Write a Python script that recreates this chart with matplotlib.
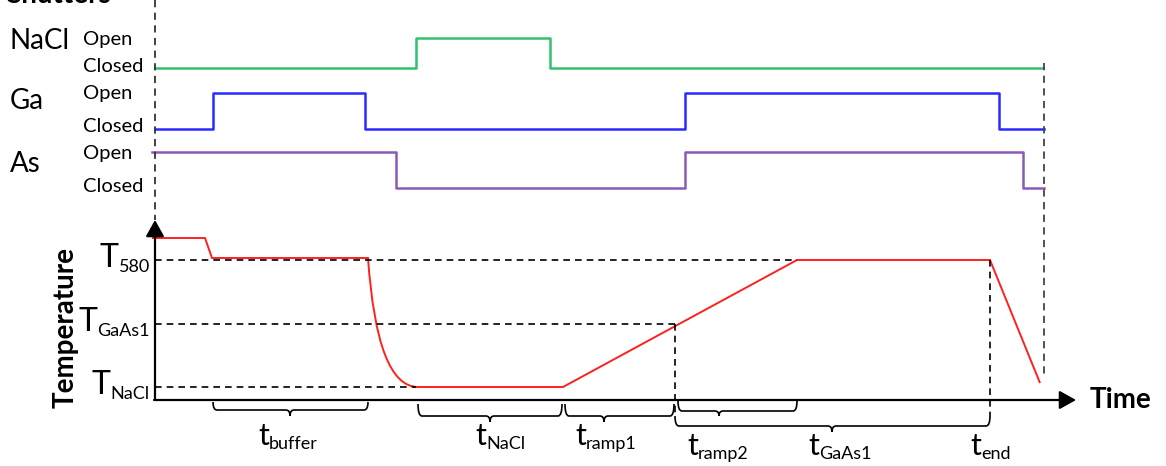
import matplotlib.pyplot as plt
from matplotlib.path import Path
from matplotlib.patches import PathPatch

plt.rcParams['font.family'] = ['Lato', 'DejaVu Sans']

# schematic: x = time position, y = height on the sheet (down is larger)
# shutter sequences (state 1 = open)
shutter_names = ['NaCl', 'Ga', 'As']
shutter_times = [
    [155, 416, 550, 1043],
    [155, 213, 365, 685, 999, 1044],
    [152, 396, 685, 1023, 1044],
]
shutter_states = [
    [0, 1, 0, 0],
    [0, 1, 0, 1, 0, 0],
    [1, 0, 1, 0, 0],
]
shutter_colors = ['#33c16f', '#2b2bff', '#8a5ab8']
open_y = [38, 93, 152]
closed_y = [68, 129, 188]
name_y = [41, 101, 164]

# substrate temperature profile; the cool-down after the buffer is a curve
# (start, control, end) between the 4th and 5th point
temp_t = [152, 205, 212, 368, 377, 418, 563, 797, 990, 1040]
temp_y = [238, 238, 258, 258, 387, 387, 387, 260, 260, 383]
temp_codes = ['M', 'L', 'L', 'L', 'C', 'C', 'L', 'L', 'L', 'L']

# temperature levels
level_subs = ['580', 'GaAs1', 'NaCl']
level_y = [260, 324, 387]
level_end = [797, 675, 416]

# time intervals (braces)
brace_subs = ['buffer', 'NaCl', 'ramp1', 'ramp2', 'GaAs1']
brace_x0 = [213, 418, 565, 678, 675]
brace_x1 = [368, 562, 674, 797, 990]
brace_xm = [290, 490, 604, 719, 832]
brace_top = [402, 404, 404, 401, 416]
brace_mid = [410, 416, 416, 411, 426]
brace_tip = [416, 422, 422, 416, 432]
tlabel_x = [258, 475, 575, 687, 808, 970]
tlabel_y = [445, 445, 445, 455, 455, 455]
tlabel_subs = brace_subs + ['end']

fig = plt.figure(figsize=(11.66, 4.66), dpi=100)
ax = fig.add_axes([0, 0, 1, 1])
ax.set_xlim(0, 1166)
ax.set_ylim(466, 0)
ax.axis('off')

dash = (0, (4, 3))

# shutter traces
for i in range(3):
    ys = [closed_y[i] - s * (closed_y[i] - open_y[i]) for s in shutter_states[i]]
    ax.plot(shutter_times[i], ys, drawstyle='steps-post', color=shutter_colors[i], lw=1.8)
    ax.text(10, name_y[i], shutter_names[i], fontsize=20, va='center', ha='left')
    ax.text(83, open_y[i] + 1, 'Open', fontsize=14.5, va='center', ha='left')
    ax.text(83, closed_y[i] - 2, 'Closed', fontsize=14.5, va='center', ha='left')

# title is cut by the top edge in the original sheet
ax.text(6, 3, 'Shutters', fontsize=20, fontweight='bold', va='baseline', ha='left')

# guide lines
ax.plot([155, 155], [0, 220], color='#333333', lw=1.3, ls=dash)
ax.plot([1044, 1044], [63, 375], color='#444444', lw=1.3, ls=dash)
for y, xe in zip(level_y, level_end):
    ax.plot([155, xe], [y, y], color='black', lw=1.2, ls=dash)
ax.plot([675, 675], [324, 417], color='black', lw=1.2, ls=dash)
ax.plot([990, 990], [260, 416], color='black', lw=1.2, ls=dash)

# axes with arrows
arrow = dict(arrowstyle='-|>,head_length=0.5,head_width=0.28', color='black', lw=1.6,
             mutation_scale=20, shrinkA=0, shrinkB=0)
ax.annotate('', xy=(155, 220), xytext=(155, 400), arrowprops=arrow)
ax.annotate('', xy=(1076, 400), xytext=(154, 400), arrowprops=arrow)
ax.text(1090, 400, 'Time', fontsize=20, fontweight='bold', va='center', ha='left')
ax.text(66, 328, 'Temperature', fontsize=20, fontweight='bold', rotation=90,
        va='center', ha='center')

# temperature profile
code_map = {'M': Path.MOVETO, 'L': Path.LINETO, 'C': Path.CURVE3}
temp_path = Path(list(zip(temp_t, temp_y)), [code_map[c] for c in temp_codes])
ax.add_patch(PathPatch(temp_path, fill=False, color='#ff2020', lw=1.4))

# level labels (right aligned)
for sub, y in zip(level_subs, level_y):
    s = ax.text(150, y + 12, sub, fontsize=13, ha='right', va='baseline')
    ax.annotate('T', xy=(0, 0), xycoords=s, xytext=(0, 6), textcoords='offset points',
                fontsize=23, ha='right', va='baseline')

# braces
def brace(x0, x1, xm, yt, ym, yp):
    r = 4
    verts = [(x0, yt), (x0, ym), (x0 + r, ym),
             (xm - r, ym), (xm, ym), (xm, yp),
             (xm, yp), (xm, ym), (xm + r, ym),
             (x1 - r, ym), (x1, ym), (x1, yt)]
    codes = [Path.MOVETO, Path.CURVE3, Path.CURVE3,
             Path.LINETO, Path.CURVE3, Path.CURVE3,
             Path.MOVETO, Path.CURVE3, Path.CURVE3,
             Path.LINETO, Path.CURVE3, Path.CURVE3]
    ax.add_patch(PathPatch(Path(verts, codes), fill=False, lw=1.2, color='black'))

for i in range(len(brace_subs)):
    brace(brace_x0[i], brace_x1[i], brace_xm[i], brace_top[i], brace_mid[i], brace_tip[i])

for sub, x, y in zip(tlabel_subs, tlabel_x, tlabel_y):
    m = ax.text(x, y, 't', fontsize=22, ha='left', va='baseline')
    ax.annotate(sub, xy=(1, 0), xycoords=m, xytext=(0, 1), textcoords='offset points',
                fontsize=13, ha='left', va='baseline')

fig.savefig('out.png', dpi=100)
